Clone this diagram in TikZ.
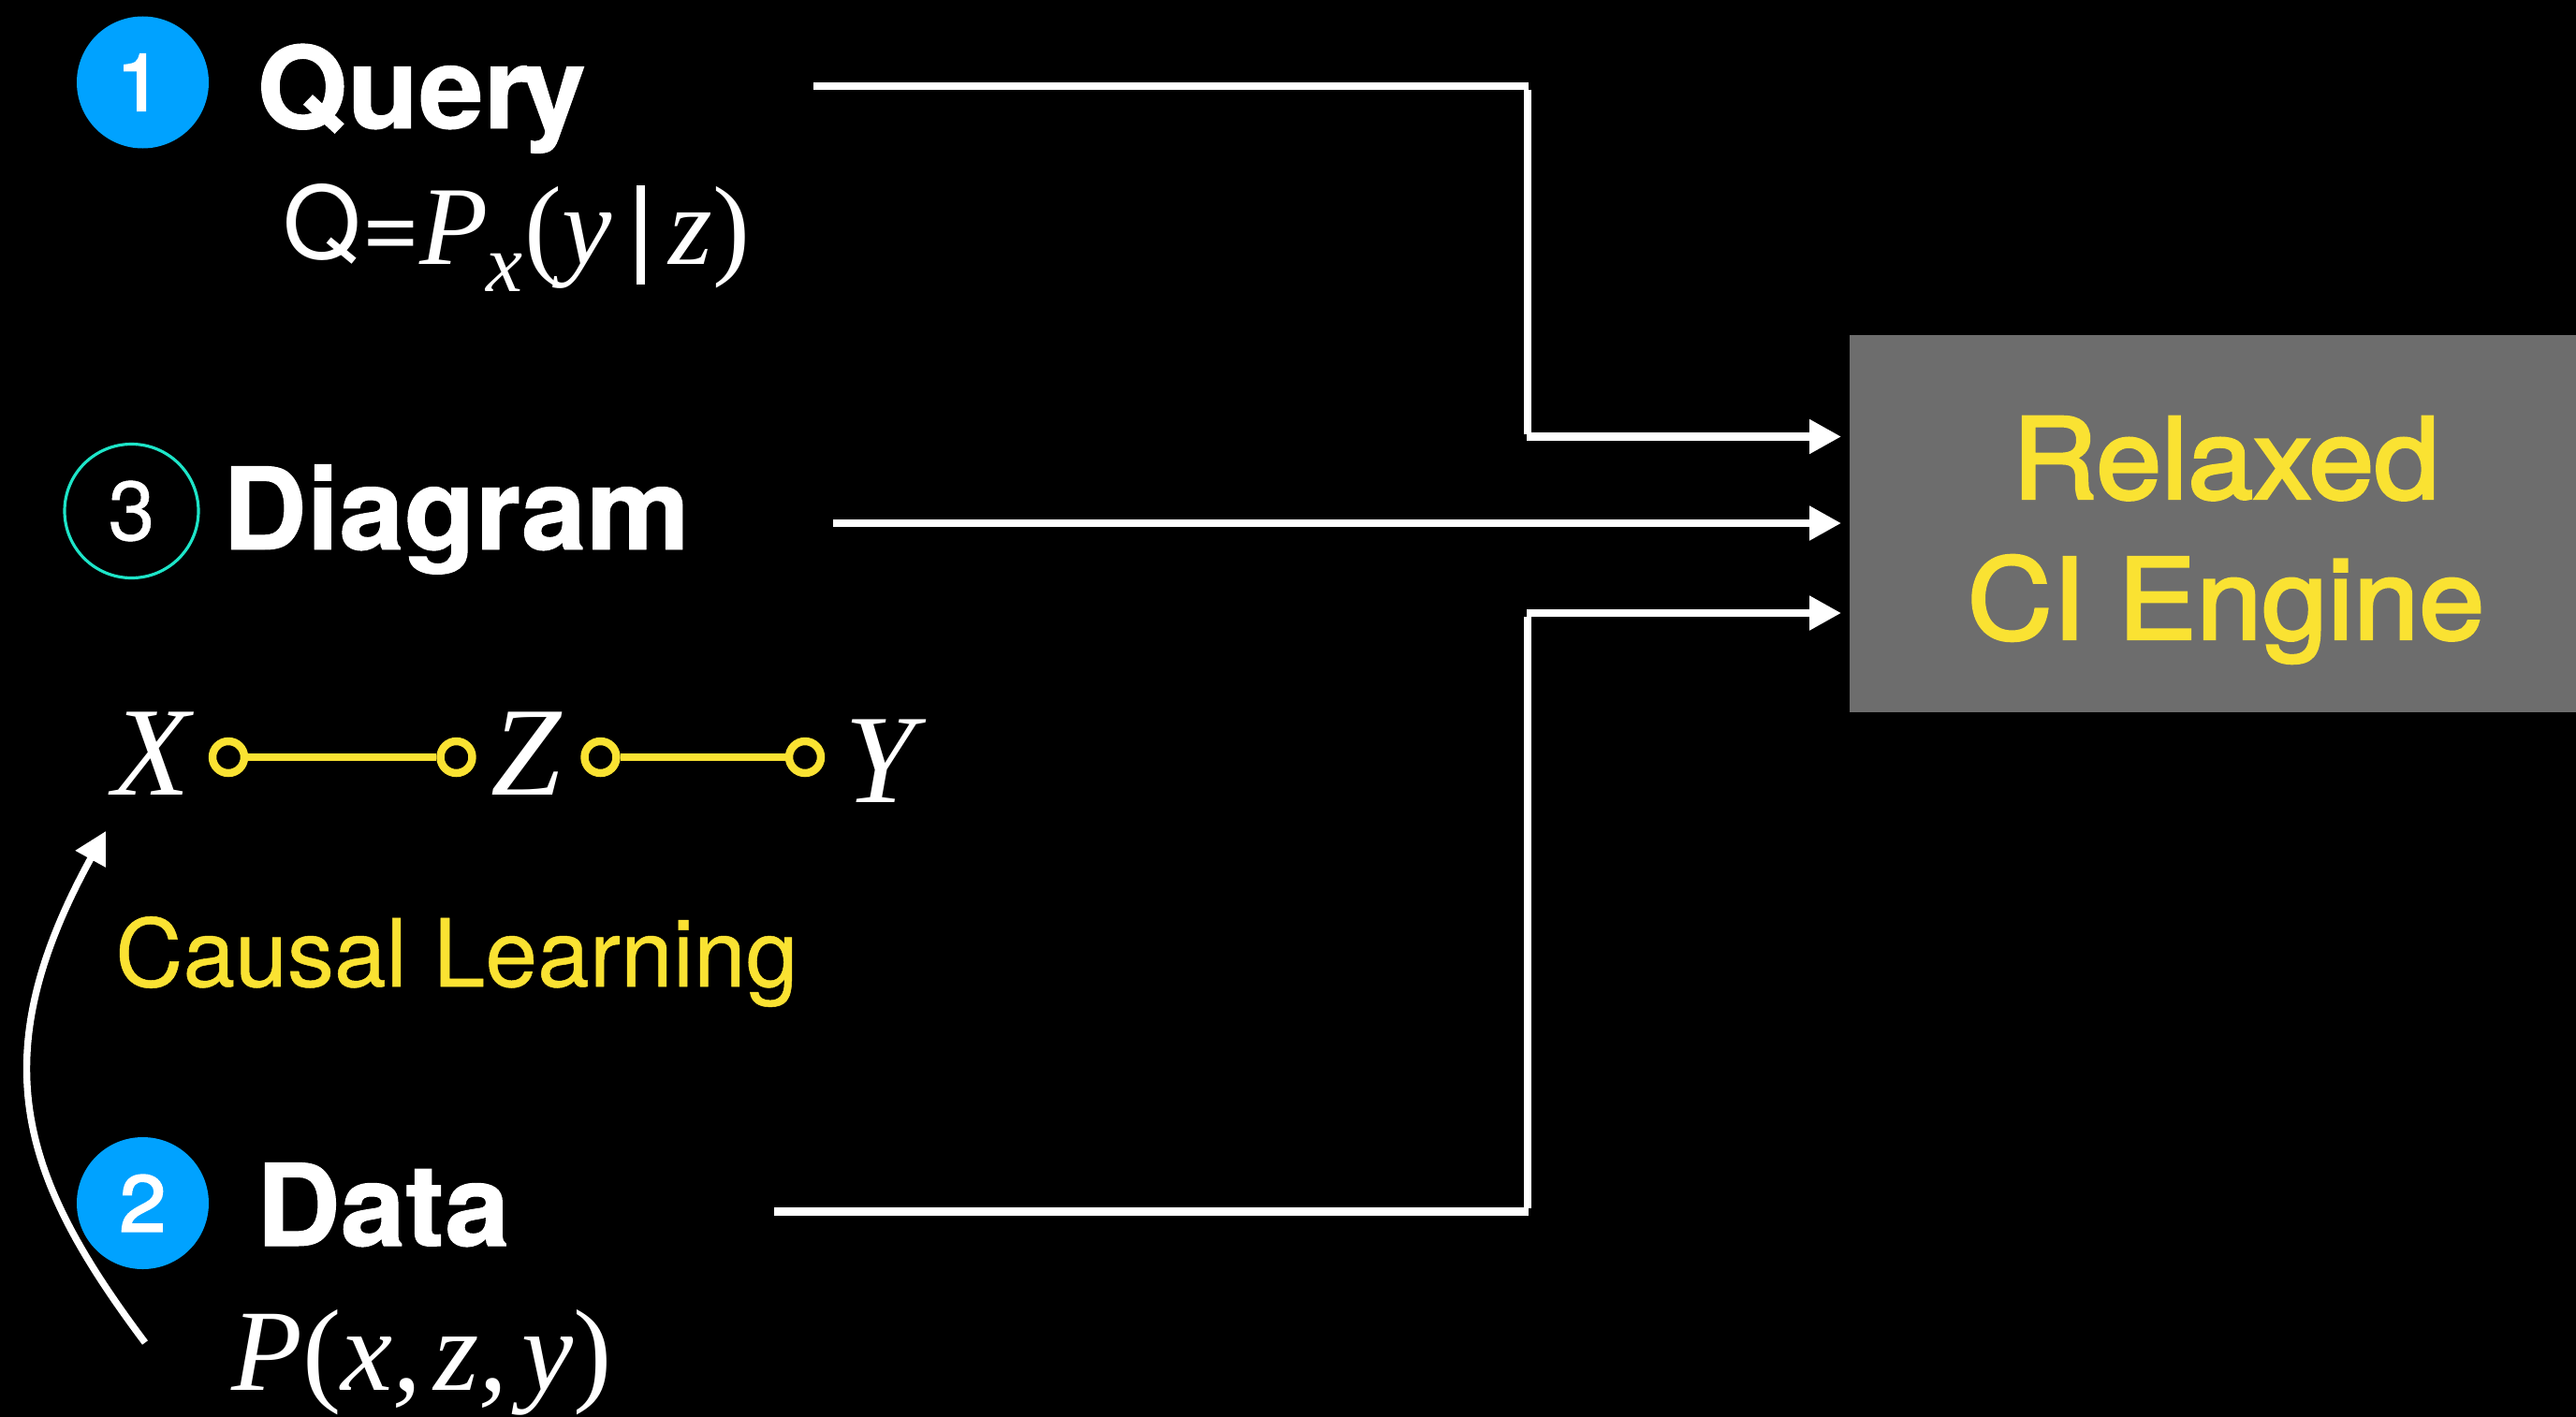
\documentclass[tikz,border=0pt]{standalone}
\usepackage{fontspec}
\setmainfont{TeX Gyre Heros}[BoldFeatures={FakeBold=0.8, FakeStretch=1.025}]
\newfontfamily\timesfont{Liberation Serif}
\newfontfamily\enginefont{TeX Gyre Heros}[FakeBold=2.5, FakeStretch=1.05]
\newfontfamily\notefont{TeX Gyre Heros}[FakeBold=0.5]
\usepackage{xcolor}
\usepackage{tikz}
\usetikzlibrary{arrows.meta,positioning,calc}
\definecolor{badgeblue}{HTML}{00A2FF}
\definecolor{badgecyan}{HTML}{1DE5C8}
\definecolor{noteyellow}{HTML}{FAE232}
\definecolor{enginegrey}{HTML}{6D6D6D}
\newcommand{\headfont}{\fontsize{34.6}{41}\selectfont\bfseries}
\newcommand{\mathfont}{\fontsize{34.1}{41}\selectfont\timesfont\itshape}
\newcommand{\varfont}{\fontsize{38.5}{41}\selectfont\timesfont\itshape}
\newcommand{\upparen}[1]{{\upshape #1}}
\tikzset{
    badge/.style={circle, fill=badgeblue, text=white, minimum size=1.41cm, inner sep=0pt, font=\fontsize{24.2}{29}\selectfont\enginefont},
    heading/.style={anchor=base west, inner sep=0pt, text=white, font=\headfont},
    formula/.style={anchor=base west, inner sep=0pt, text=white, font=\mathfont},
    varname/.style={anchor=base west, inner sep=0pt, text=white, font=\varfont},
    ring/.style={circle, draw=noteyellow, line width=2.4pt, minimum size=0.34cm, inner sep=0pt},
    edgeline/.style={noteyellow, line width=2.5pt},
    wire/.style={white, line width=2.3pt},
    feed/.style={wire, -{Triangle[length=0.34cm, width=0.35cm]}}
}

\begin{document}
\begin{tikzpicture}
    \useasboundingbox (0,-0.004) rectangle (27.52,15.13);
    \fill[black] (-1,-1) rectangle (28.5,16);

    % Query
    \node[badge] (badgequery) at (1.525,14.25) {\kern-0.035cm 1\kern0.035cm};
    \node[heading] (query) at (2.735,13.76) {Quer\kern-0.07em y};
    \node[formula] (queryexpr) at (3.02,12.31) {\raisebox{0.06cm}{\upshape\normalfont\fontsize{30.5}{35}\selectfont Q=}P\kern-0.02em\raisebox{-0.29cm}{\fontsize{25}{30}\selectfont x}\kern0.02em\upparen{(}y\kern0.215em\rule[-0.22cm]{0.09cm}{1.06cm}\kern0.215em z\upparen{)}};

    % Diagram
    \node[circle, draw=badgecyan, line width=0.9pt, minimum size=1.43cm, inner sep=0pt, text=white, font=\fontsize{25.5}{29}\selectfont\notefont] (badgediagram) at (1.405,9.67) {3};
    \node[heading] (diagram) at (2.37,9.26) {Diagram};

    % Causal graph
    \node[varname] (varx) at (1.2,6.64) {X};
    \node[varname] (varz) at (5.24,6.64) {Z};
    \node[varname] (vary) at (9.02,6.56) {Y};
    \foreach \name/\x in {ringa/2.44, ringb/4.875, ringc/6.415, ringd/8.6} {
        \node[ring] (\name) at (\x,7.04) {};
    }
    \draw[edgeline] (ringa) -- (ringb);
    \draw[edgeline] (ringc) -- (ringd);

    % Causal learning
    \node[anchor=base west, inner sep=0pt, text=noteyellow, font=\fontsize{28.5}{34}\selectfont\notefont] (learning) at (1.225,4.59) {Causal Learning};
    \coordinate (learnstart) at (1.55,0.785);
    \coordinate (learnend) at (1.13,6.25);
    \draw[feed, line width=2.1pt] (learnstart) .. controls (0.23,2.545) and (-0.21,3.814) .. (learnend);

    % Data
    \node[badge] (badgedata) at (1.525,2.275) {2};
    \node[heading] (data) at (2.73,1.82) {Data};
    \node[varname, font=\fontsize{35.3}{41}\selectfont\timesfont\itshape] (dataexpr) at (2.47,0.28) {P\upparen{(}x,\kern0.1em z,\kern0.12em y\upparen{)}};

    % Engine
    \node[fill=enginegrey, minimum width=7.76cm, minimum height=4.03cm, inner sep=0pt] (engine) at (23.64,9.535) {};
    \node[align=center, text=noteyellow, inner sep=0pt, font=\fontsize{34.1}{42.7}\selectfont\enginefont] (enginelabel) at (23.78,9.36) {Relaxed\\CI Engine};

    % Connectors
    \coordinate (queryout) at (8.69,14.21);
    \coordinate (querybend) at (16.327,14.21);
    \coordinate (querydrop) at (16.32,14.17);
    \coordinate (queryturn) at (16.32,10.49);
    \coordinate (queryfoot) at (16.31,10.465);
    \coordinate (queryin) at (19.67,10.465);
    \coordinate (diagramout) at (8.9,9.54);
    \coordinate (diagramin) at (19.67,9.54);
    \coordinate (dataout) at (8.27,2.185);
    \coordinate (databend) at (16.327,2.185);
    \coordinate (datarise) at (16.32,2.225);
    \coordinate (dataturn) at (16.32,8.54);
    \coordinate (datafoot) at (16.31,8.58);
    \coordinate (datain) at (19.67,8.58);
    \draw[wire] (queryout) -- (querybend);
    \draw[wire] (querydrop) -- (queryturn);
    \draw[feed] (queryfoot) -- (queryin);
    \draw[feed] (diagramout) -- (diagramin);
    \draw[wire] (dataout) -- (databend);
    \draw[wire] (datarise) -- (dataturn);
    \draw[feed] (datafoot) -- (datain);
\end{tikzpicture}
\end{document}
